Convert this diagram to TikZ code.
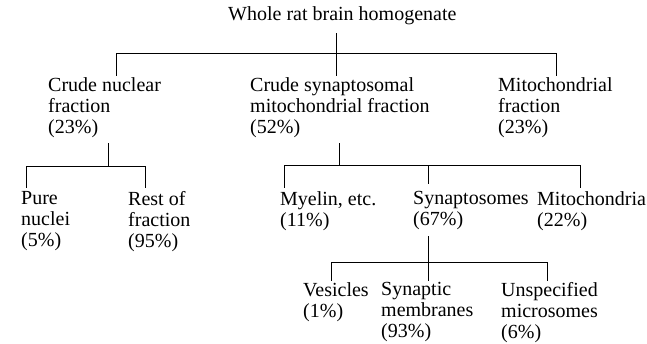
\documentclass[tikz,border=0pt]{standalone}
\usepackage{fontspec}
\setmainfont{Liberation Serif}
\usepackage{tikz}
\usetikzlibrary{calc}
\newcommand{\fracfont}{\fontsize{20}{21}\selectfont}
\tikzset{
  line/.style={draw=black, line width=0.9pt},
  frac/.style={anchor=north west, align=left, inner sep=0pt, font=\fracfont,
    execute at begin node={\rule{0pt}{15pt}}}
}

\begin{document}
\begin{tikzpicture}[x=1pt, y=-1pt]
  \useasboundingbox (0,0) rectangle (647,343);

  % fractions
  \node [frac] (whole) at (228,5) {Whole rat brain homogenate};
  \node [frac] (nuc) at (48,77) {Crude nuclear\\fraction\\(23\%)};
  \node [frac] (syn) at (250,77) {Crude synaptosomal\\mitochondrial fraction\\(52\%)};
  \node [frac] (mito) at (498,77) {Mitochondrial\\fraction\\(23\%)};
  \node [frac] (pure) at (21,191) {Pure\\nuclei\\(5\%)};
  \node [frac] (rest) at (128,191) {Rest of\\fraction\\(95\%)};
  \node [frac] (myel) at (280,191) {Myelin, etc.\\(11\%)};
  \node [frac] (synap) at (413,191) {Synaptosomes\\(67\%)};
  \node [frac] (mitoc) at (537,191) {Mitochondria\\(22\%)};
  \node [frac] (ves) at (303,282) {Vesicles\\(1\%)};
  \node [frac] (memb) at (381,282) {Synaptic\\membranes\\(93\%)};
  \node [frac] (micro) at (501,282) {Unspecified\\microsomes\\(6\%)};

  % tree branch points
  \coordinate (whole-out) at (336,33);
  \coordinate (bar0) at (336,53);
  \coordinate (nuc-in) at (116,76);
  \coordinate (syn-in) at (336,76);
  \coordinate (mito-in) at (556,76);

  \coordinate (nuc-out) at (108,143);
  \coordinate (bar1) at (108,166);
  \coordinate (pure-in) at (26,188);
  \coordinate (rest-in) at (145,188);

  \coordinate (syn-out) at (339,143);
  \coordinate (bar2) at (339,165);
  \coordinate (myel-in) at (284,188);
  \coordinate (synap-in) at (428,184);
  \coordinate (mitoc-in) at (580,188);

  \coordinate (synap-out) at (428,236);
  \coordinate (bar3) at (428,262);
  \coordinate (ves-in) at (331,281);
  \coordinate (memb-in) at (428,281);
  \coordinate (micro-in) at (547,281);

  % whole homogenate
  \draw [line] (whole-out) -- (bar0);
  \draw [line] (nuc-in |- bar0) -- (mito-in |- bar0);
  \foreach \c in {nuc,syn,mito}
    \draw [line] (\c-in |- bar0) -- (\c-in);

  % crude nuclear fraction
  \draw [line] (nuc-out) -- (bar1);
  \draw [line] (pure-in |- bar1) -- (rest-in |- bar1);
  \foreach \c in {pure,rest}
    \draw [line] (\c-in |- bar1) -- (\c-in);

  % crude synaptosomal fraction
  \draw [line] (syn-out) -- (bar2);
  \draw [line] (myel-in |- bar2) -- (mitoc-in |- bar2);
  \foreach \c in {myel,synap,mitoc}
    \draw [line] (\c-in |- bar2) -- (\c-in);

  % synaptosomes
  \draw [line] (synap-out) -- (bar3);
  \draw [line] (ves-in |- bar3) -- (micro-in |- bar3);
  \foreach \c in {ves,memb,micro}
    \draw [line] (\c-in |- bar3) -- (\c-in);
\end{tikzpicture}
\end{document}
